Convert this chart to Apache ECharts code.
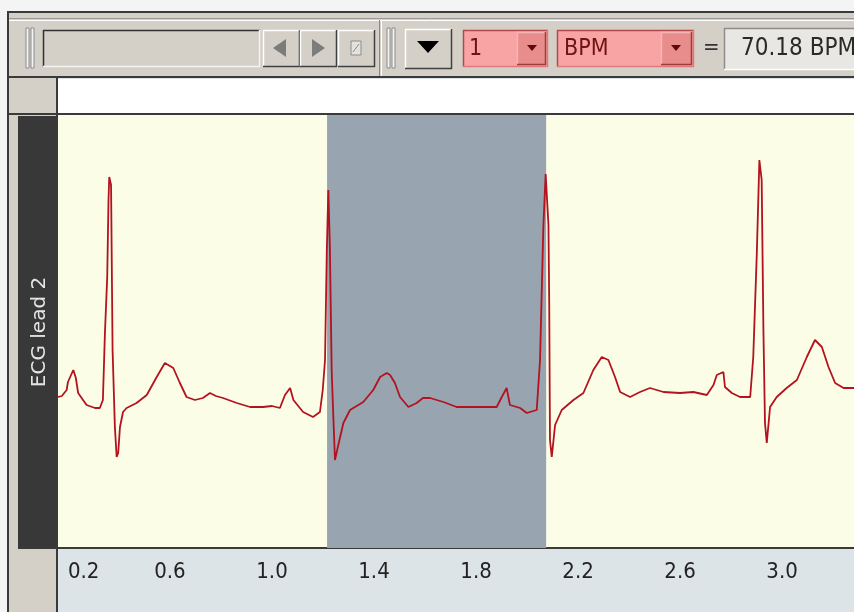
<!DOCTYPE html>
<html lang="en">
<head>
<meta charset="UTF-8">
<title>ECG lead 2</title>
<script src="https://cdn.jsdelivr.net/npm/echarts@6/dist/echarts.min.js"></script>
<style>
  html, body { margin: 0; padding: 0; background: #f4f4f4; }
  #pic { width: 854px; height: 612px; }
</style>
</head>
<body>
<div id="pic"></div>
<script>
// time (s) and amplitude (mV)
var timeSec = [
  0.161, 0.176, 0.195, 0.200, 0.221, 0.231, 0.240, 0.273, 0.306, 0.325,
  0.337, 0.345, 0.354, 0.359, 0.362, 0.369, 0.375, 0.384, 0.391, 0.397,
  0.404, 0.416, 0.430, 0.469, 0.509, 0.548, 0.580, 0.600, 0.613, 0.639,
  0.665, 0.698, 0.729, 0.757, 0.780, 0.808, 0.862, 0.914, 0.965, 1.000,
  1.031, 1.051, 1.071, 1.084, 1.122, 1.161, 1.188, 1.199, 1.208, 1.215,
  1.221, 1.227, 1.234, 1.240, 1.247, 1.260, 1.280, 1.306, 1.358, 1.397,
  1.424, 1.450, 1.463, 1.482, 1.502, 1.535, 1.567, 1.592, 1.620, 1.672,
  1.724, 1.789, 1.881, 1.901, 1.920, 1.933, 1.973, 1.999, 2.038, 2.051,
  2.064, 2.073, 2.084, 2.087, 2.090, 2.097, 2.110, 2.136, 2.182, 2.221,
  2.260, 2.293, 2.319, 2.345, 2.365, 2.404, 2.443, 2.482, 2.535, 2.600,
  2.652, 2.705, 2.731, 2.744, 2.770, 2.776, 2.803, 2.835, 2.875, 2.887,
  2.901, 2.911, 2.920, 2.927, 2.933, 2.940, 2.953, 2.979, 3.018, 3.058,
  3.097, 3.129, 3.156, 3.182, 3.208, 3.241, 3.282
];
var ecgMv = [
  0.015, 0.020, 0.050, 0.090, 0.150, 0.110, 0.035, -0.025, -0.040, -0.040,
  0.000, 0.335, 0.615, 1.000, 1.115, 1.075, 0.250, -0.135, -0.285, -0.265,
  -0.135, -0.060, -0.040, -0.015, 0.025, 0.115, 0.185, 0.170, 0.160, 0.085,
  0.015, 0.000, 0.010, 0.035, 0.020, 0.010, -0.015, -0.035, -0.035, -0.030,
  -0.040, 0.025, 0.060, 0.000, -0.060, -0.085, -0.060, 0.050, 0.200, 0.750,
  1.050, 0.765, 0.150, -0.065, -0.300, -0.225, -0.115, -0.050, -0.010, 0.050,
  0.115, 0.135, 0.125, 0.085, 0.015, -0.035, -0.015, 0.010, 0.010, -0.010,
  -0.035, -0.035, -0.035, 0.015, 0.060, -0.025, -0.040, -0.065, -0.050, 0.200,
  0.865, 1.130, 0.875, 0.485, -0.200, -0.285, -0.125, -0.050, 0.000, 0.035,
  0.150, 0.215, 0.200, 0.115, 0.040, 0.015, 0.040, 0.060, 0.040, 0.035,
  0.040, 0.025, 0.075, 0.125, 0.140, 0.065, 0.035, 0.015, 0.015, 0.215,
  0.735, 1.200, 1.100, 0.335, -0.115, -0.215, -0.035, 0.015, 0.060, 0.100,
  0.215, 0.300, 0.265, 0.165, 0.085, 0.060, 0.060
];
var tickLabels = [0.2, 0.6, 1.0, 1.4, 1.8, 2.2, 2.6, 3.0];
var selection = [1.216, 2.075];
var rateText = '70.18 BPM';

var seriesData = timeSec.map(function (t, i) { return [t, ecgMv[i]]; });

var myChart = echarts.init(document.getElementById('pic'));

var uiFont = '"DejaVu Sans Condensed", "DejaVu Sans", sans-serif';

function rect(x, y, w, h, fill, stroke) {
  return { type: 'rect', shape: { x: x, y: y, width: w, height: h },
           style: { fill: fill, stroke: stroke || null, lineWidth: stroke ? 1 : 0 }, silent: true };
}
function line(x1, y1, x2, y2, color, w) {
  return { type: 'line', shape: { x1: x1, y1: y1, x2: x2, y2: y2 },
           style: { stroke: color, lineWidth: w || 1 }, silent: true };
}
function tri(pts, fill) {
  return { type: 'polygon', shape: { points: pts }, style: { fill: fill }, silent: true };
}
function text(x, y, str, font, color, align) {
  return { type: 'text', x: x, y: y, silent: true,
           style: { text: str, font: font, fill: color, align: align || 'left', verticalAlign: 'middle' } };
}
// 3D box: raised = light top/left, dark bottom/right
function bevel(x, y, w, h, fill, raised, hi, lo) {
  var a = raised ? hi : lo;
  var b = raised ? lo : hi;
  return [
    rect(x, y, w, h, fill),
    line(x, y + 0.5, x + w, y + 0.5, a, 1.5),
    line(x + 0.5, y, x + 0.5, y + h, a, 1.5),
    line(x, y + h - 0.5, x + w, y + h - 0.5, b, 1.5),
    line(x + w - 0.5, y, x + w - 0.5, y + h, b, 1.5)
  ];
}

var leadLabel = text(40, 332, 'ECG lead 2', '20px "DejaVu Sans", sans-serif', '#e4e4e4', 'center');
leadLabel.rotation = Math.PI / 2;
leadLabel.originX = 0;
leadLabel.originY = 0;

var chrome = [].concat(
  [
    rect(0, 0, 854, 11, '#f4f4f4'),
    rect(0, 0, 8, 612, '#f4f4f4'),
    rect(9, 13, 845, 64, '#d4d0c8'),
    line(9, 18.5, 854, 18.5, '#9c9a94', 1),
    line(9, 20.5, 854, 20.5, '#ffffff', 1),
    rect(9, 78, 48, 534, '#d4d0c8'),
    rect(58, 79, 796, 35, '#ffffff'),
    line(8, 11, 8, 612, '#3a3a3a', 2),
    line(8, 12, 854, 12, '#3a3a3a', 2),
    line(9, 77, 854, 77, '#3a3a3a', 2),
    line(9, 114, 854, 114, '#3a3a3a', 2),
    line(57, 78, 57, 612, '#3a3a3a', 2),
    rect(18, 116, 39, 432, '#383838'),
    line(18, 548, 58, 548, '#3a3a3a', 2),
    // grips and separator
    rect(26, 28, 3, 40, '#f4f4f4', '#8a8a8a'),
    rect(31, 28, 3, 40, '#f4f4f4', '#8a8a8a'),
    line(379.5, 20, 379.5, 76, '#8a8a8a', 1),
    line(381.5, 20, 381.5, 76, '#ffffff', 1),
    rect(387, 28, 3, 40, '#f4f4f4', '#8a8a8a'),
    rect(392, 28, 3, 40, '#f4f4f4', '#8a8a8a')
  ],
  bevel(43, 30, 217, 37, '#d4d0c8', false, '#f4f4f4', '#303030'),
  bevel(263, 30, 37, 37, '#d4d0c8', true, '#ffffff', '#404040'),
  bevel(300, 30, 37, 37, '#d4d0c8', true, '#ffffff', '#404040'),
  bevel(338, 30, 37, 37, '#d4d0c8', true, '#ffffff', '#404040'),
  [
    tri([[273, 48], [286, 39], [286, 57]], '#7c7c7c'),
    tri([[312, 39], [325, 48], [312, 57]], '#7c7c7c'),
    rect(351, 41, 10, 14, '#e4e2dc', '#8c8c8c'),
    line(353, 52, 359, 44, '#8c8c8c', 1)
  ],
  bevel(405, 29, 47, 40, '#d4d0c8', true, '#ffffff', '#404040'),
  [tri([[417, 41], [439, 41], [428, 53]], '#000000')],
  bevel(463, 30, 85, 37, '#f9a4a4', false, '#e07a7a', '#b04a4a'),
  bevel(517, 32, 29, 33, '#e88c8c', true, '#f6b4b4', '#9e3c3c'),
  [tri([[527, 45], [537, 45], [532, 51]], '#5a0a0a')],
  bevel(557, 30, 137, 37, '#f9a4a4', false, '#e07a7a', '#b04a4a'),
  bevel(661, 32, 31, 33, '#e88c8c', true, '#f6b4b4', '#9e3c3c'),
  [tri([[671, 45], [681, 45], [676, 51]], '#5a0a0a')],
  [
    text(469, 49, '1', '23px ' + uiFont, '#6e1414'),
    text(564, 49, 'BPM', '23px ' + uiFont, '#6e1414'),
    text(703, 48, '=', '22px ' + uiFont, '#333333')
  ],
  bevel(724, 28, 140, 42, '#e8e7e3', false, '#ffffff', '#8c8c8c'),
  [
    text(741, 49, rateText, '24px ' + uiFont, '#2a2a2a'),
    leadLabel
  ]
);

var option = {
  backgroundColor: '#dde4e7',
  animation: false,
  grid: { left: 58, right: 0, top: 115, bottom: 64, show: true,
          backgroundColor: '#fbfde7', borderWidth: 0 },
  xAxis: {
    type: 'value', min: 0.161, max: 3.282,
    axisLine: { show: true, onZero: false, lineStyle: { color: '#3a3a3a', width: 2 } },
    axisTick: { show: false },
    splitLine: { show: false },
    axisLabel: {
      customValues: tickLabels,
      alignMinLabel: 'left',
      margin: 13,
      color: '#222222',
      fontSize: 22,
      fontFamily: uiFont,
      formatter: function (v) { return v.toFixed(1); }
    }
  },
  yAxis: { type: 'value', min: -0.74, max: 1.425, show: false, splitLine: { show: false } },
  graphic: { elements: chrome },
  series: [
    {
      type: 'line', name: 'selection', data: [], z: 1,
      markArea: { silent: true, itemStyle: { color: '#98a4b0', opacity: 1 },
                  data: [[{ xAxis: selection[0] }, { xAxis: selection[1] }]] }
    },
    {
      type: 'line', name: 'ECG lead 2', data: seriesData, z: 3,
      showSymbol: false, symbol: 'none',
      lineStyle: { color: '#b3121f', width: 1.8 }
    }
  ]
};

myChart.setOption(option);
</script>
</body>
</html>
